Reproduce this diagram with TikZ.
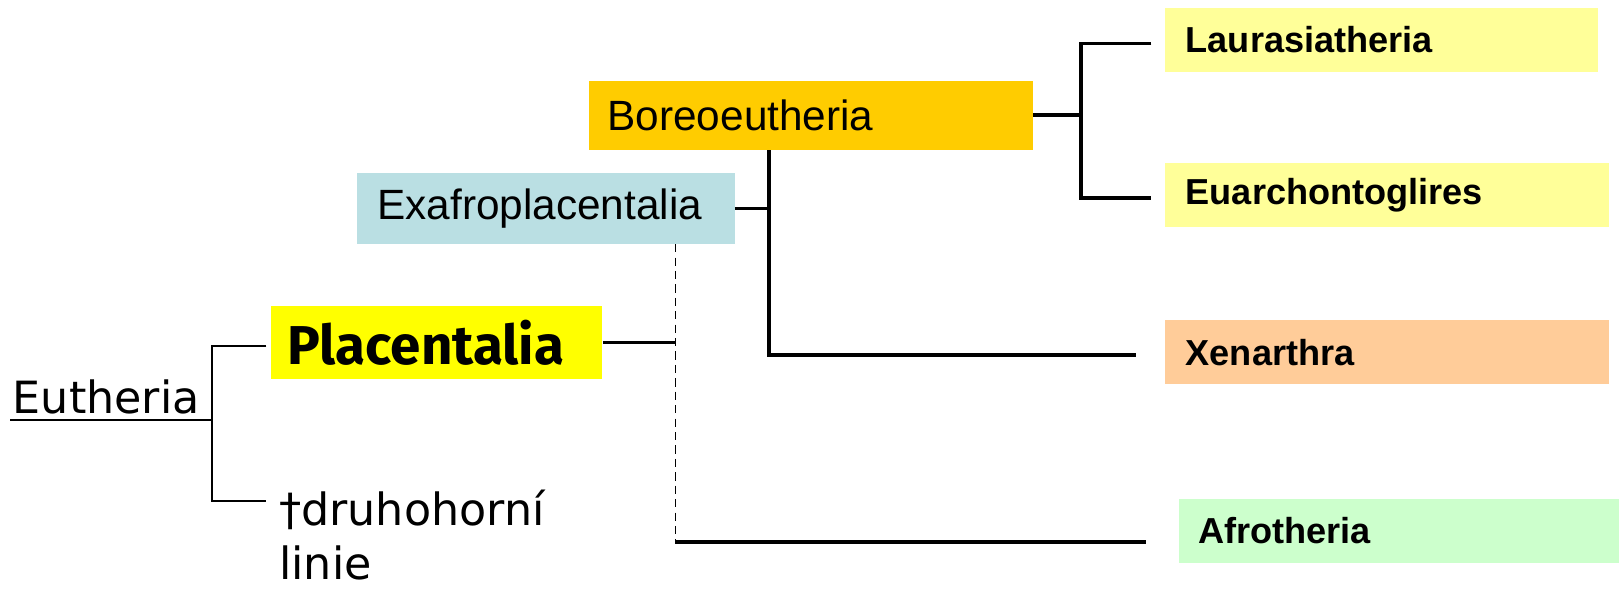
\documentclass[tikz,border=0pt]{standalone}
\usepackage{fontspec}
\setmainfont{Liberation Sans}
\newfontfamily\comicfont{Fira Sans}
\newfontfamily\handfont{DejaVu Sans}
\definecolor{cLau}{HTML}{FFFF99}
\definecolor{cXen}{HTML}{FFCC99}
\definecolor{cAfr}{HTML}{CCFFCC}
\definecolor{cBor}{HTML}{FFCC00}
\definecolor{cExa}{HTML}{BADFE3}
\definecolor{cPla}{HTML}{FFFF00}
\begin{document}
\begin{tikzpicture}[x=0.5pt,y=-0.5pt,
  taxbox/.style={anchor=west, inner ysep=0pt, align=left},
  rightbox/.style={taxbox, inner xsep=10pt, minimum height=31pt, font=\bfseries\fontsize{17.5}{20}\selectfont},
  midbox/.style={taxbox, font=\fontsize{20.5}{24}\selectfont},
  ln/.style={line width=1.7pt},
  br/.style={line width=1pt},
  dsh/.style={line width=0.7pt, dash pattern=on 4pt off 2.5pt}]
\useasboundingbox (0,0) rectangle (1568,570.5);
% boxes
\node[rightbox, fill=cLau, text width=189.5pt] (lau) at (1128,38.5) {Laurasiatheria};
\node[rightbox, fill=cLau, text width=195pt] (eua) at (1128,189) {Euarchontoglires};
\node[rightbox, fill=cXen, text width=195pt] (xen) at (1128,341) {Xenarthra};
\node[rightbox, fill=cAfr, text width=194.5pt, inner xsep=9.5pt] (afr) at (1141,514) {Afrotheria};
\node[midbox, fill=cBor, text width=197pt, inner xsep=9pt, minimum height=33.5pt] (bor) at (570,111.5) {Boreoeutheria};
\node[midbox, fill=cExa, text width=163pt, inner xsep=10pt, minimum height=34pt] (exa) at (345,202) {Exafroplacentalia};
\node[taxbox, fill=cPla, text width=144.5pt, inner xsep=8pt, minimum height=35.5pt,
  font=\comicfont\bfseries\fontsize{26.5}{30}\selectfont] (pla) at (262,331.5) {\raisebox{-1.5pt}{Placentalia}};
\node[anchor=base west, inner sep=0pt, font=\handfont\fontsize{21.5}{24}\selectfont] (eut) at (12,400) {Eutheria};
\node[anchor=north west, inner sep=0pt, align=left, font=\handfont\fontsize{21.5}{26}\selectfont] (dru) at (270,474) {†druhohorní\\linie};
% helper coordinates
\coordinate (brk) at (205,0);
\coordinate (druL) at (258,485);
\coordinate (eutU) at (10,407);
\coordinate (dv) at (654,0);
\coordinate (afrL) at (1110,525);
\coordinate (bv) at (745,0);
\coordinate (lv) at (1047,0);
% Eutheria bracket
\draw[br] ([xshift=-2pt,yshift=-1.75pt]pla.west) -- ([yshift=-1.75pt]pla.west -| brk) -- (brk |- druL) -- (druL);
\draw[br] (eutU) -- (eutU -| brk);
% Placentalia / Afrotheria
\draw[ln] (pla.east) -- (pla.east -| dv);
\draw[dsh] (exa.south -| dv) -- (dv |- afrL);
\draw[ln] (dv |- afrL) -- (afrL);
% Exafroplacentalia / Xenarthra
\draw[ln] (exa.east) -- (exa.east -| bv);
\draw[ln] (bor.south -| bv) -- ([yshift=-1.5pt]bv |- xen.west) -- ([xshift=-14pt,yshift=-1.5pt]xen.west);
% Boreoeutheria
\draw[ln] (bor.east) -- (bor.east -| lv);
\draw[ln] ([xshift=-6.5pt,yshift=-1.75pt]lau.west) -- ([yshift=-1.75pt]lau.west -| lv) -- ([yshift=-1.5pt]eua.west -| lv) -- ([xshift=-6.5pt,yshift=-1.5pt]eua.west);
\end{tikzpicture}
\end{document}
